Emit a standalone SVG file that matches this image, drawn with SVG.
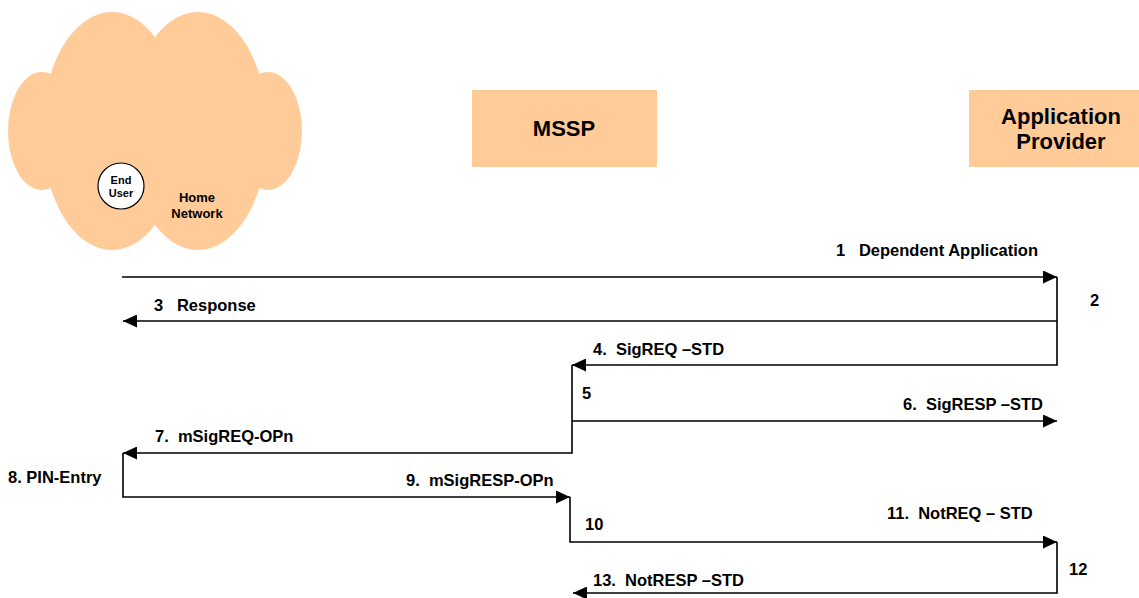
<svg xmlns="http://www.w3.org/2000/svg" width="1139" height="598" viewBox="0 0 1139 598">
  <defs>
    <marker id="arrow" markerUnits="userSpaceOnUse" markerWidth="14" markerHeight="13" refX="14" refY="6.5" orient="auto">
      <path d="M0,0 L14,6.5 L0,13 z" fill="#000"/>
    </marker>
  </defs>
  <style>
    .peach { fill: #FFCC99; stroke: none; }
    .lbl { font-family: "Liberation Sans", Arial, sans-serif; font-weight: bold; font-size: 16.5px; fill: #000; white-space: pre; }
    .title { font-family: "Liberation Sans", Arial, sans-serif; font-weight: bold; font-size: 22px; fill: #000; text-anchor: middle; }
    .small { font-family: "Liberation Sans", Arial, sans-serif; font-weight: bold; fill: #000; text-anchor: middle; }
    .conn { fill: none; stroke: #000; stroke-width: 1.6; }
    .conn.arrowed { marker-end: url(#arrow); }
  </style>

  <!-- Home network cloud with the end user inside -->
  <g id="home-network">
    <ellipse class="peach" cx="42" cy="131" rx="34" ry="59"/>
    <ellipse class="peach" cx="268" cy="131" rx="34" ry="59"/>
    <ellipse class="peach" cx="112" cy="131" rx="70" ry="119"/>
    <ellipse class="peach" cx="198" cy="131" rx="70" ry="119"/>
    <text class="small" font-size="13" x="197" y="202">Home</text>
    <text class="small" font-size="13" x="197" y="218">Network</text>
  </g>
  <g id="end-user">
    <circle cx="121" cy="186" r="23" fill="#fff" stroke="#000" stroke-width="1.2"/>
    <text class="small" font-size="11" x="121" y="184">End</text>
    <text class="small" font-size="11" x="121" y="197">User</text>
  </g>

  <g id="mssp">
    <rect class="peach" x="472" y="90" width="185" height="77"/>
    <text class="title" x="564" y="136">MSSP</text>
  </g>

  <g id="application-provider">
    <rect class="peach" x="969" y="90" width="170" height="77"/>
    <text class="title" x="1061" y="124">Application</text>
    <text class="title" x="1061" y="149">Provider</text>
  </g>

  <!-- Message flow -->
  <g id="connectors">
    <path class="conn arrowed" d="M122 277 H1057"/>
    <path class="conn arrowed" d="M1057 321 H123"/>
    <path class="conn arrowed" d="M1057 277 V365 H572"/>
    <path class="conn arrowed" d="M572 365 V453 H123"/>
    <path class="conn arrowed" d="M572 421 H1057"/>
    <path class="conn arrowed" d="M123 453 V497 H570"/>
    <path class="conn arrowed" d="M570 497 V542 H1057"/>
    <path class="conn arrowed" d="M1057 542 V593 H573"/>
  </g>

  <g id="labels">
    <text class="lbl" x="836" y="256">1   Dependent Application</text>
    <text class="lbl" x="1090" y="306">2</text>
    <text class="lbl" x="154" y="311">3   Response</text>
    <text class="lbl" x="593" y="355">4.  SigREQ –STD</text>
    <text class="lbl" x="582" y="399">5</text>
    <text class="lbl" x="903" y="410">6.  SigRESP –STD</text>
    <text class="lbl" x="155" y="442">7.  mSigREQ-OPn</text>
    <text class="lbl" x="8" y="483">8. PIN-Entry</text>
    <text class="lbl" x="406" y="486">9.  mSigRESP-OPn</text>
    <text class="lbl" x="585" y="530">10</text>
    <text class="lbl" x="887" y="519">11.  NotREQ – STD</text>
    <text class="lbl" x="1069" y="575">12</text>
    <text class="lbl" x="593" y="586">13.  NotRESP –STD</text>
  </g>
</svg>
